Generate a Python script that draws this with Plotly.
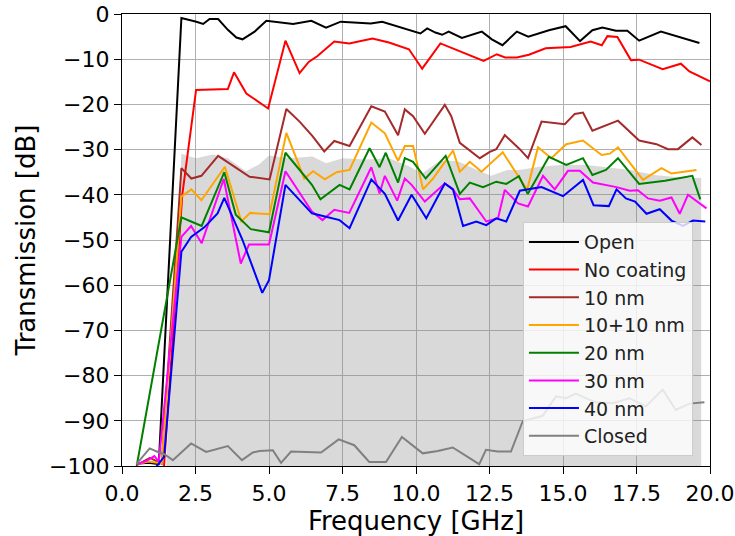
import plotly.graph_objects as go

# ---------------- data ----------------
open_x = [0.5, 0.9, 1.25, 2.02, 2.53, 2.76, 2.98, 3.27, 3.6, 3.89, 4.1, 4.51, 4.91, 5.36, 5.82, 6.44,
          6.94, 7.44, 7.9, 8.46, 8.85, 9.31, 9.76, 10.15, 10.38, 10.66, 10.89, 11.11, 11.56, 12.24,
          12.58, 12.94, 13.43, 13.82, 14.52, 15.09, 15.58, 16.0, 16.34, 16.8, 17.19, 17.59, 18.33, 19.64]
open_y = [-99.5, -99.3, -99.6, -0.9, -1.7, -2.2, -1.1, -1.1, -3.5, -5.2, -5.6, -3.9, -1.5, -1.9, -2.2, -1.5,
          -3.0, -1.7, -1.9, -2.1, -1.7, -2.6, -3.5, -4.3, -3.2, -4.1, -4.6, -3.9, -5.3, -3.9,
          -5.6, -6.9, -3.9, -5.0, -3.6, -2.7, -6.0, -3.6, -3.0, -3.7, -3.7, -5.9, -3.9, -6.4]

nocoat_x = [0.5, 1.42, 2.05, 2.52, 3.6, 3.81, 4.23, 4.97, 5.56, 6.04, 6.35, 6.65, 7.22, 7.73, 8.52, 9.08,
            9.76, 10.21, 10.83, 11.56, 12.3, 12.75, 13.03, 13.43, 13.84, 14.41, 15.26, 15.94, 16.32,
            16.51, 16.85, 17.31, 17.59, 18.39, 19.01, 19.3, 20.0]
nocoat_y = [-101, -101, -40.0, -16.8, -16.6, -12.9, -17.6, -20.9, -5.9, -13.1, -10.6, -9.3, -6.1, -6.5, -5.4, -6.3,
            -7.8, -12.1, -6.5, -8.4, -10.4, -8.9, -9.6, -9.6, -9.0, -7.6, -7.3, -6.1, -6.9,
            -4.9, -5.1, -10.2, -10.1, -12.2, -11.0, -12.7, -14.9]

nm10_x = [0.5, 0.95, 1.35, 2.02, 2.36, 2.7, 3.27, 3.78, 4.34, 5.02, 5.59, 6.04, 6.48, 6.88, 7.22, 7.74,
          8.48, 8.94, 9.39, 9.62, 9.9, 10.3, 10.98, 11.2, 11.49, 12.17, 12.51, 12.73, 13.02, 13.53,
          13.81, 14.27, 15.06, 15.4, 15.68, 16.0, 16.87, 17.59, 18.18, 18.57, 18.91, 19.4, 19.71]
nm10_y = [-99.8, -98.2, -99.5, -34.1, -36.4, -35.8, -31.4, -33.6, -36.0, -36.6, -21.0, -23.8, -27.0, -30.4, -28.1, -29.2,
          -20.4, -21.6, -26.8, -21.1, -22.6, -26.5, -20.1, -22.6, -28.5, -31.9, -30.5, -29.9, -26.8, -29.9,
          -31.9, -23.8, -24.4, -22.1, -21.8, -25.8, -23.6, -28.0, -28.8, -29.9, -29.9, -27.3, -29.0]

nm1010_x = [0.5, 0.9, 1.35, 2.02, 2.36, 2.7, 3.5, 4.06, 4.36, 5.02, 5.59, 6.2, 6.5, 6.9, 7.3, 7.74,
            8.48, 8.94, 9.39, 9.62, 9.9, 10.24, 10.58, 11.26, 11.49, 11.83, 12.23, 12.95, 13.42, 13.78,
            14.15, 14.6, 15.11, 15.68, 16.31, 16.59, 16.87, 17.72, 18.35, 18.69, 19.54]
nm1010_y = [-99.6, -99.0, -99.4, -40.4, -38.8, -41.2, -33.8, -45.9, -44.0, -44.3, -26.3, -36.4, -34.8, -36.6, -35.0, -34.5,
            -24.0, -26.4, -32.5, -29.2, -29.2, -38.8, -36.4, -30.2, -34.9, -32.7, -34.9, -30.6, -35.3, -38.9,
            -29.5, -31.9, -28.8, -28.0, -31.2, -30.9, -29.5, -36.7, -34.1, -35.3, -34.5]

nm20_x = [0.5, 2.02, 2.35, 2.71, 3.48, 3.87, 4.38, 5.0, 5.56, 6.46, 6.75, 7.4, 7.74, 8.42, 8.76, 8.97,
          9.39, 9.62, 9.9, 10.33, 11.01, 11.49, 11.83, 12.28, 12.73, 13.07, 13.5, 13.8, 14.52, 15.11,
          15.68, 16.0, 16.46, 16.87, 17.59, 18.47, 19.4, 19.67]
nm20_y = [-100, -45.0, -45.9, -46.9, -35.0, -44.4, -47.6, -48.3, -30.7, -37.8, -41.0, -37.8, -38.8, -29.7, -33.9, -30.7,
          -37.3, -31.9, -32.7, -36.4, -31.4, -39.8, -37.3, -38.3, -37.1, -37.6, -35.9, -39.8, -31.6, -33.4,
          -31.9, -35.6, -34.5, -31.9, -37.6, -36.9, -35.8, -41.0]

nm30_x = [0.5, 0.85, 1.1, 1.25, 2.02, 2.35, 2.71, 3.46, 4.04, 4.32, 5.0, 5.56, 6.46, 6.82, 7.22, 7.73,
          8.48, 8.76, 8.94, 9.36, 9.62, 9.85, 10.3, 10.98, 11.26, 11.49, 11.83, 12.39, 12.79, 13.02,
          13.47, 13.81, 14.32, 14.72, 15.17, 15.57, 16.02, 16.82, 17.27, 17.55, 17.89, 18.29, 18.69,
          18.97, 19.25, 19.88]
nm30_y = [-99.7, -98.8, -97.8, -99.0, -49.3, -46.9, -50.7, -36.5, -55.2, -51.0, -51.0, -34.8, -43.7, -45.6, -43.3, -44.0,
          -33.9, -39.7, -35.8, -41.3, -36.4, -37.8, -41.5, -37.5, -38.8, -41.0, -40.8, -45.9, -45.2, -38.9,
          -41.9, -42.6, -35.8, -38.8, -34.7, -34.7, -37.3, -38.3, -39.1, -39.0, -40.8, -41.3, -40.6,
          -44.2, -40.0, -43.0]

nm40_x = [0.5, 1.15, 1.43, 2.02, 2.35, 2.8, 3.25, 3.48, 4.1, 4.77, 5.0, 5.56, 6.46, 6.91, 7.4, 7.74,
          8.48, 8.94, 9.39, 9.85, 10.35, 10.98, 11.26, 11.6, 12.05, 12.39, 12.73, 13.07, 13.53, 14.27,
          15.0, 15.68, 16.04, 16.56, 16.82, 17.14, 17.45, 17.84, 18.29, 18.69, 19.08, 19.42, 19.84]
nm40_y = [-100.5, -100.3, -98.0, -52.6, -49.3, -47.2, -44.1, -40.7, -50.0, -61.7, -58.9, -37.8, -44.1, -44.8, -45.6, -47.4,
          -36.6, -39.8, -45.7, -40.0, -45.2, -37.5, -38.8, -46.9, -45.9, -46.7, -45.2, -45.9, -39.1, -38.3,
          -40.3, -36.7, -42.3, -42.5, -38.8, -40.8, -41.5, -44.2, -43.2, -45.7, -46.9, -45.7, -45.9]

closed_x = [0.49, 0.94, 1.22, 1.44, 1.73, 2.35, 2.86, 3.6, 4.08, 4.45, 4.68, 5.13, 5.41, 5.75, 6.77,
            7.37, 7.9, 8.41, 8.98, 9.52, 10.23, 10.74, 11.25, 11.81, 12.15, 12.38, 12.78, 13.23, 13.63,
            14.31, 14.76, 15.1, 15.44, 15.84, 16.12, 16.69, 17.26, 17.82, 18.39, 18.84, 19.3, 19.81]
closed_y = [-99.6, -96.1, -96.9, -97.4, -98.7, -95.0, -96.9, -95.6, -98.7, -97.0, -96.7, -96.5, -99.3, -96.8, -97.0,
            -94.1, -95.4, -99.1, -99.1, -93.6, -97.2, -96.7, -95.9, -98.3, -99.6, -96.4, -96.8, -96.8, -90.1,
            -88.9, -84.6, -85.0, -84.0, -85.2, -85.9, -86.1, -85.0, -86.8, -83.1, -87.6, -86.2, -85.9]

# shaded band (upper edge), filled down to the bottom of the axis
band_x = [1.5, 2.02, 2.52, 3.09, 3.6, 4.21, 4.66, 5.0, 5.68, 6.48, 6.94, 7.5, 8.3, 9.08, 9.76, 10.21,
          10.8, 11.4, 12.0, 12.55, 13.1, 13.5, 14.2, 14.9, 15.8, 16.6, 17.3, 18.1, 18.9, 19.7]
band_y = [-100, -30.9, -31.9, -31.1, -31.9, -34.8, -33.3, -31.3, -31.9, -31.5, -33.0, -31.9, -32.2, -31.9, -33.7, -35.3,
          -32.5, -32.5, -34.3, -35.8, -34.5, -34.5, -33.8, -33.4, -33.4, -33.9, -34.5, -35.6, -36.1, -36.3]

x_range = [0, 20]
y_range = [-100, 0]
x_ticks = [0, 2.5, 5, 7.5, 10, 12.5, 15, 17.5, 20]
y_ticks = [0, -10, -20, -30, -40, -50, -60, -70, -80, -90, -100]

series = [
    ("Open", open_x, open_y, "#000000"),
    ("No coating", nocoat_x, nocoat_y, "#ff0000"),
    ("10 nm", nm10_x, nm10_y, "#a52a2a"),
    ("10+10 nm", nm1010_x, nm1010_y, "#ffa500"),
    ("20 nm", nm20_x, nm20_y, "#008000"),
    ("30 nm", nm30_x, nm30_y, "#ff00ff"),
    ("40 nm", nm40_x, nm40_y, "#0000ff"),
    ("Closed", closed_x, closed_y, "#808080"),
]

FONT = "DejaVu Sans"
fig = go.Figure()

base = y_range[0]
fig.add_trace(go.Scatter(
    x=band_x + [band_x[-1], band_x[0]],
    y=band_y + [base, base],
    fill="toself", fillcolor="rgba(128,128,128,0.30)",
    line=dict(width=0), mode="lines", showlegend=False, hoverinfo="skip"))

for name, xs, ys, col in series:
    fig.add_trace(go.Scatter(x=xs, y=ys, mode="lines", name=name,
                             line=dict(color=col, width=2), legendgroup=name))

axis_common = dict(showline=True, linecolor="black", linewidth=1.3, mirror=True,
                   ticks="outside", ticklen=7, tickwidth=1.2, tickcolor="black",
                   showgrid=True, gridcolor="#b0b0b0", gridwidth=1, zeroline=False,
                   automargin=False, ticklabeloverflow="allow",
                   tickfont=dict(family=FONT, size=22, color="black"))

fig.update_xaxes(range=x_range, tickvals=x_ticks, tickformat=".1f",
                 title=dict(text="Frequency [GHz]", font=dict(family=FONT, size=26, color="black"), standoff=2),
                 **axis_common)
fig.update_yaxes(range=y_range, tickvals=y_ticks,
                 title=dict(text="Transmission [dB]", font=dict(family=FONT, size=26, color="black"), standoff=5),
                 **axis_common)

fig.update_layout(
    width=735, height=536, autosize=False,
    margin=dict(l=122, r=25, t=14, b=70),
    paper_bgcolor="white", plot_bgcolor="white",
    font=dict(family=FONT, size=19, color="black"),
    legend=dict(x=0.971, y=0.022, xanchor="right", yanchor="bottom",
                bgcolor="rgba(255,255,255,0.8)", bordercolor="#cccccc", borderwidth=1,
                font=dict(family=FONT, size=19, color="#222222"),
                tracegroupgap=0, itemwidth=50),
)

fig.write_html("out.html", config={"displayModeBar": False},
               post_script="document.body.style.margin='0';")
